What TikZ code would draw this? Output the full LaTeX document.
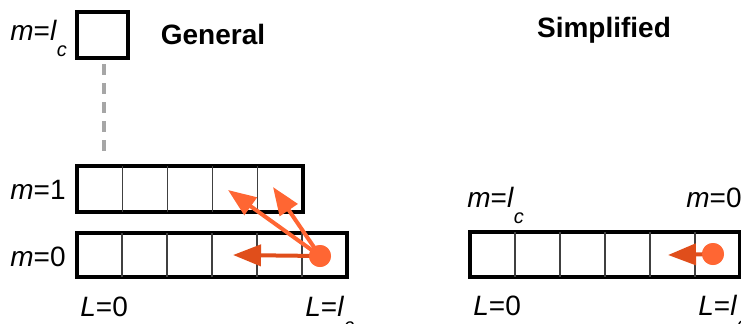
\documentclass[tikz,border=0pt]{standalone}
\usepackage{fontspec}
\setmainfont{Liberation Sans}
\usetikzlibrary{arrows.meta,calc}

\definecolor{dotorange}{HTML}{FF6633}
\definecolor{darkorange}{HTML}{E04E1B}
\definecolor{dashgray}{HTML}{A6A6A6}

\newcommand{\subc}{\raisebox{-0.6em}{\fontsize{10}{10}\selectfont\textit{c}}}

\begin{document}
\begin{tikzpicture}
		[x=0.5pt, y=-0.5pt,
		every node/.style={font=\fontsize{14}{16}\selectfont},
		rowsty/.style={draw, line width=2pt, inner sep=0, outer sep=0},
		cellsty/.style={draw=black!75, line width=0.6pt},
		labsty/.style={anchor=base west, inner sep=0},
		titlesty/.style={font=\fontsize{14}{16}\selectfont\bfseries},
		dotsty/.style={circle, fill=dotorange, minimum size=11pt, inner sep=0},
		arrsty/.style={draw=dotorange, line width=2pt,
			-{Triangle[length=14pt, width=10.5pt]}},
		backsty/.style={draw=darkorange, line width=2pt,
			-{Triangle[length=14pt, width=10.5pt]}}]
		\useasboundingbox (0,0) rectangle (741,323);
		
		% general case
		\node (top box) at (102.5, 35) [rowsty, minimum width=25.5pt, minimum height=23pt] {};
		\node (row 1) at (190, 189) [rowsty, minimum width=113pt, minimum height=23pt] {};
		\node (row 0) at (212, 255) [rowsty, minimum width=135pt, minimum height=22pt] {};
		\foreach \i in {1,...,4}
			\draw[cellsty] ($(row 1.north west)!\i/5!(row 1.north east)$)
				-- ($(row 1.south west)!\i/5!(row 1.south east)$);
		\foreach \i in {1,...,5}
			\draw[cellsty] ($(row 0.north west)!\i/6!(row 0.north east)$)
				-- ($(row 0.south west)!\i/6!(row 0.south east)$);
		\draw[dashgray, line width=2.2pt, dash pattern=on 5.5pt off 4pt,
			shorten <=3pt, shorten >=5.5pt]
			([xshift=0.75pt]top box.south) -- ([xshift=0.75pt]top box.south |- row 1.north);
		
		\coordinate (tip 1) at (228, 190);
		\coordinate (tip 2) at (273, 187);
		\coordinate (tip 3) at (233, 255);
		\node (dot 1) at (320, 256) [dotsty] {};
		\draw[arrsty] (dot 1.center) -- (tip 1);
		\draw[arrsty] (dot 1.center) -- (tip 2);
		\draw[backsty] (dot 1.center) -- (tip 3);
		\node at (dot 1) [dotsty] {};
		
		\node (title 1) at (213, 34) [titlesty] {General};
		\node (text 1) at (10, 40) [labsty] {\textit{m}=\textit{l}\subc};
		\node (text 2) at (10, 199) [labsty] {\textit{m}=1};
		\node (text 3) at (10, 266) [labsty] {\textit{m}=0};
		\node (text 4) at (80, 316) [labsty] {\textit{L}=0};
		\node (text 5) at (305, 316) [labsty] {\textit{L}=\textit{l}\subc};
		
		% simplified case
		\node (row s) at (605, 254.5) [rowsty, minimum width=135pt, minimum height=22.5pt] {};
		\foreach \i in {1,...,5}
			\draw[cellsty] ($(row s.north west)!\i/6!(row s.north east)$)
				-- ($(row s.south west)!\i/6!(row s.south east)$);
		\coordinate (tip 4) at (668, 255);
		\node (dot 2) at (713, 254) [dotsty] {};
		\draw[backsty] (dot 2.center) -- (tip 4);
		\node at (dot 2) [dotsty] {};
		
		\node (title 2) at (604, 30) [titlesty] {Simplified};
		\node (text 6) at (467, 207) [labsty] {\textit{m}=\textit{l}\subc};
		\node (text 7) at (686, 207) [labsty] {\textit{m}=0};
		\node (text 8) at (473, 315) [labsty] {\textit{L}=0};
		\node (text 9) at (698, 315) [labsty] {\textit{L}=\textit{l}\subc};
	\end{tikzpicture}
\end{document}
